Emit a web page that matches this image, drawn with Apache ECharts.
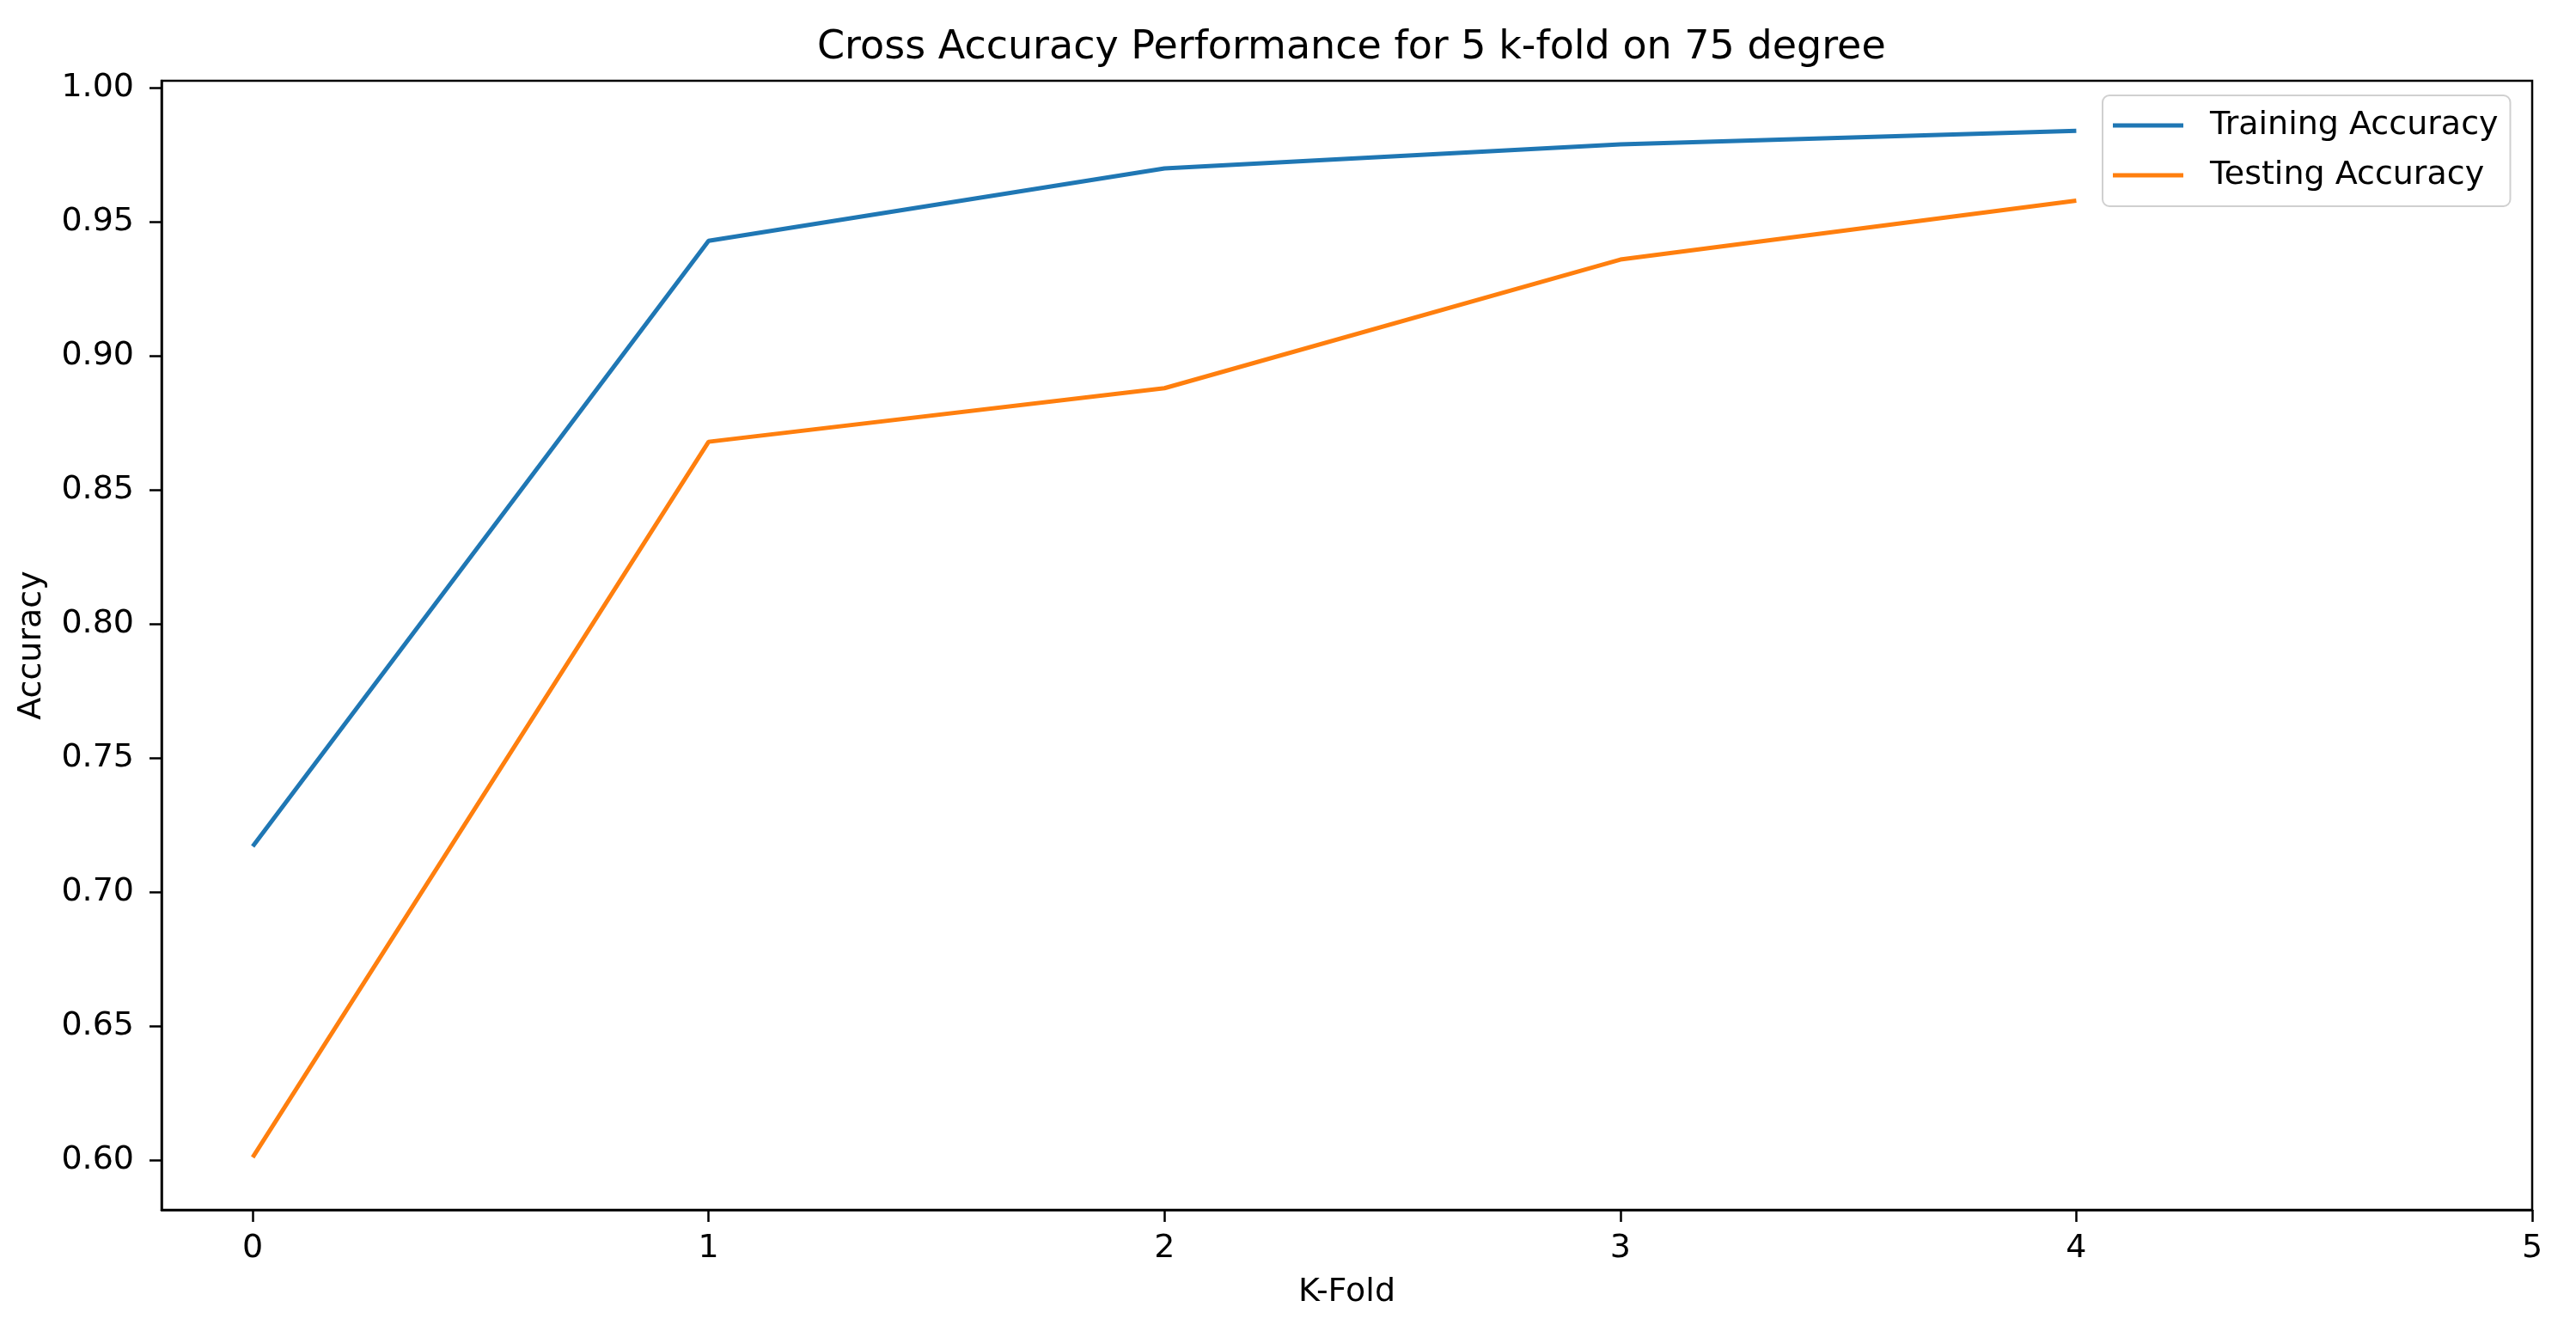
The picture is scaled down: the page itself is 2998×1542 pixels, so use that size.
<!DOCTYPE html>
<html>
<head>
<meta charset="utf-8">
<script src="https://cdn.jsdelivr.net/npm/echarts@6/dist/echarts.min.js"></script>
<style>
html,body{margin:0;padding:0;background:#fff;}
#chart{width:2998px;height:1542px;}
</style>
</head>
<body>
<div id="chart"></div>
<script>
const folds = [0, 1, 2, 3, 4];
const trainingAccuracy = [0.717, 0.943, 0.970, 0.979, 0.984];
const testingAccuracy = [0.601, 0.868, 0.888, 0.936, 0.958];
const xTicks = [0, 1, 2, 3, 4, 5];
const yTicks = [0.60, 0.65, 0.70, 0.75, 0.80, 0.85, 0.90, 0.95, 1.00];
const seriesNames = ['Training Accuracy', 'Testing Accuracy'];
const titleText = 'Cross Accuracy Performance for 5 k-fold on 75 degree';

const FONT = 'DejaVu Sans';
const chart = echarts.init(document.getElementById('chart'), null, {renderer: 'canvas'});

function pairs(xs, ys) { return xs.map((x, i) => [x, ys[i]]); }

chart.setOption({
  backgroundColor: '#ffffff',
  animation: false,
  title: {
    text: titleText,
    left: 946,
    top: 28,
    textStyle: {fontFamily: FONT, fontSize: 46, fontWeight: 'normal', color: '#000'}
  },
  grid: {
    left: 188, right: 51, top: 94, bottom: 134,
    show: true, borderColor: '#000', borderWidth: 2.5, backgroundColor: 'transparent'
  },
  legend: {
    orient: 'vertical',
    left: 2447,
    top: 111,
    icon: 'rect',
    itemWidth: 82,
    itemHeight: 5,
    itemGap: 20,
    padding: [16, 14, 17, 12],
    backgroundColor: '#fff',
    borderColor: '#d0d0d0',
    borderWidth: 2,
    borderRadius: 8,
    textStyle: {fontFamily: FONT, fontSize: 38, color: '#000', padding: [0, 0, 0, 26]},
    data: seriesNames
  },
  xAxis: {
    type: 'value',
    min: -0.2,
    max: 5,
    name: 'K-Fold',
    nameLocation: 'middle',
    nameGap: 77,
    nameTextStyle: {fontFamily: FONT, fontSize: 38, color: '#000'},
    axisLine: {show: true, onZero: false, lineStyle: {color: '#000', width: 2.5}},
    axisTick: {show: true, length: 14, lineStyle: {color: '#000', width: 2.5}, customValues: xTicks},
    axisLabel: {fontFamily: FONT, fontSize: 38, color: '#000', margin: 26, customValues: xTicks,
      formatter: v => String(v)},
    splitLine: {show: false}
  },
  yAxis: {
    type: 'value',
    min: 0.5814,
    max: 1.0027,
    name: 'Accuracy',
    nameLocation: 'middle',
    nameRotate: 90,
    nameGap: 132,
    nameTextStyle: {fontFamily: FONT, fontSize: 38, color: '#000'},
    axisLine: {show: true, onZero: false, lineStyle: {color: '#000', width: 2.5}},
    axisTick: {show: true, length: 14, lineStyle: {color: '#000', width: 2.5}, customValues: yTicks},
    axisLabel: {fontFamily: FONT, fontSize: 38, color: '#000', margin: 32, customValues: yTicks,
      formatter: v => Number(v).toFixed(2)},
    splitLine: {show: false}
  },
  series: [
    {
      name: seriesNames[0], type: 'line', data: pairs(folds, trainingAccuracy),
      symbol: 'none', color: '#1f77b4', lineStyle: {width: 5, color: '#1f77b4'}
    },
    {
      name: seriesNames[1], type: 'line', data: pairs(folds, testingAccuracy),
      symbol: 'none', color: '#ff7f0e', lineStyle: {width: 5, color: '#ff7f0e'}
    }
  ]
});
</script>
</body>
</html>
